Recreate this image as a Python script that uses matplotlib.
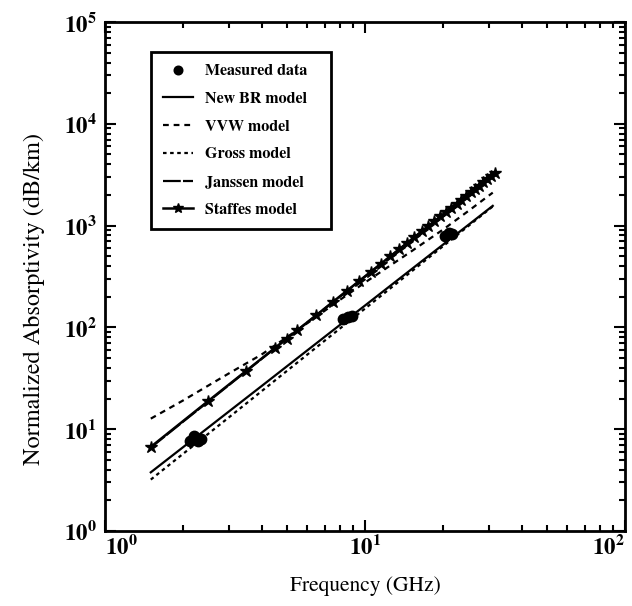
import matplotlib
matplotlib.use("Agg")
import matplotlib.pyplot as plt
from matplotlib.ticker import LogLocator, NullFormatter, FixedLocator

plt.rcParams["font.family"] = ["STIXGeneral", "DejaVu Serif"]
plt.rcParams["mathtext.fontset"] = "stix"

# Measured absorptivity (dB/km)
meas_freq = [2.13, 2.20, 2.28, 2.33, 8.2, 8.6, 8.9, 20.3, 21.0, 21.7]
meas_val = [7.6, 8.6, 7.7, 8.1, 120, 127, 129, 790, 840, 830]

# Model curves evaluated on a common frequency grid (GHz)
model_freq = [1.5, 2, 3, 4, 6, 8, 10, 15, 20, 25, 31]
new_br = [3.77, 6.68, 14.97, 26.5, 59.5, 105.5, 164, 368, 653, 1018, 1563]
vvw = [12.7, 19.2, 35.4, 54.1, 110, 186, 276, 554, 917, 1394, 2108]
gross = [3.20, 5.75, 13.1, 23.6, 54.1, 97.2, 153, 350, 630, 993, 1543]
janssen = [6.6, 11.9, 27.2, 49.0, 112, 200, 315, 718, 1290, 2030, 3140]

# Staffes model, sampled at the starred frequencies
staffes_freq = [1.5, 2.5, 3.5, 4.5, 5.0, 5.5, 6.5, 7.5, 8.5, 9.5, 10.5, 11.5,
                12.5, 13.5, 14.5, 15.5, 16.5, 17.5, 18.5, 19.5, 20.5, 21.5,
                22.5, 23.5, 24.5, 25.5, 26.5, 27.5, 28.5, 29.5, 30.5, 31.5]
staffes = [6.7, 19.0, 37.6, 62.7, 77.7, 94.2, 132, 177, 228, 286, 350, 421,
           499, 583, 674, 772, 877, 988, 1106, 1230, 1361, 1500, 1645, 1797,
           1956, 2122, 2295, 2474, 2658, 2851, 3052, 3259]

x_ticks = [1, 10, 100]
x_tick_labels = [r"$\mathbf{10^{0}}$", r"$\mathbf{10^{1}}$", r"$\mathbf{10^{2}}$"]
y_ticks = [1, 10, 100, 1e3, 1e4, 1e5]
y_tick_labels = [r"$\mathbf{10^{%d}}$" % k for k in range(6)]

fig = plt.figure(figsize=(6.32, 6.06), dpi=100)
ax = fig.add_axes([105 / 632, 1 - 531 / 606, 520 / 632, 509 / 606])

ax.plot(model_freq, janssen, color="black", lw=1.6, ls=(0, (8, 1)),
        label="Janssen model", zorder=2)
ax.plot(model_freq, new_br, color="black", lw=1.6, ls="-",
        label="New BR model", zorder=3)
ax.plot(model_freq, vvw, color="black", lw=1.6, ls=(0, (2.6, 2.2)),
        label="VVW model", zorder=3)
ax.plot(model_freq, gross, color="black", lw=1.6, ls=(0, (1.6, 1.6)),
        label="Gross model", zorder=3)
ax.plot(staffes_freq, staffes, color="black", lw=1.8, ls="-", marker="*",
        ms=9, mfc="black", mec="black", label="Staffes model", zorder=4)
ax.plot(meas_freq, meas_val, ls="none", marker="o", ms=6.5, mfc="black",
        mec="black", mew=2, label="Measured data", zorder=5)

ax.set_xscale("log")
ax.set_yscale("log")
ax.set_xlim(1, 100)
ax.set_ylim(1, 1e5)

ax.xaxis.set_major_locator(FixedLocator(x_ticks))
ax.set_xticklabels(x_tick_labels)
ax.yaxis.set_major_locator(FixedLocator(y_ticks))
ax.set_yticklabels(y_tick_labels)
ax.xaxis.set_minor_locator(LogLocator(base=10, subs=range(2, 10), numticks=20))
ax.yaxis.set_minor_locator(LogLocator(base=10, subs=range(2, 10), numticks=20))
ax.xaxis.set_minor_formatter(NullFormatter())
ax.yaxis.set_minor_formatter(NullFormatter())

ax.tick_params(which="both", direction="in", top=True, right=True,
               color="black", width=1.5, labelsize=16.5)
ax.tick_params(which="major", length=8)
ax.tick_params(which="minor", length=4)
ax.tick_params(axis="x", which="major", pad=3)
ax.tick_params(axis="y", which="major", pad=6)

# keep the end labels of the frequency axis inside the frame width
xlabels = ax.get_xticklabels()
xlabels[0].set_horizontalalignment("left")
xlabels[-1].set_horizontalalignment("right")

for s in ax.spines.values():
    s.set_linewidth(2)
    s.set_color("black")

ax.set_xlabel("Frequency (GHz)", fontsize=15.5, labelpad=12)
ax.set_ylabel("Normalized Absorptivity (dB/km)", fontsize=17.5)
ax.yaxis.set_label_coords(-0.115, 0.455)

handles, labels = ax.get_legend_handles_labels()
order = ["Measured data", "New BR model", "VVW model", "Gross model",
         "Janssen model", "Staffes model"]
hmap = dict(zip(labels, handles))
leg = ax.legend([hmap[k] for k in order], [k + "   " for k in order],
                loc="upper left",
                bbox_to_anchor=(151 / 632, 1 - 52 / 606),
                bbox_transform=fig.transFigure, borderaxespad=0,
                frameon=True, fancybox=False,
                edgecolor="black", framealpha=1, handlelength=1.9,
                handletextpad=0.7, labelspacing=0.85, borderpad=0.75,
                markerscale=0.8, prop={"weight": "bold", "size": 11.5})
leg.get_frame().set_linewidth(2)

fig.savefig("out.png", dpi=100)
